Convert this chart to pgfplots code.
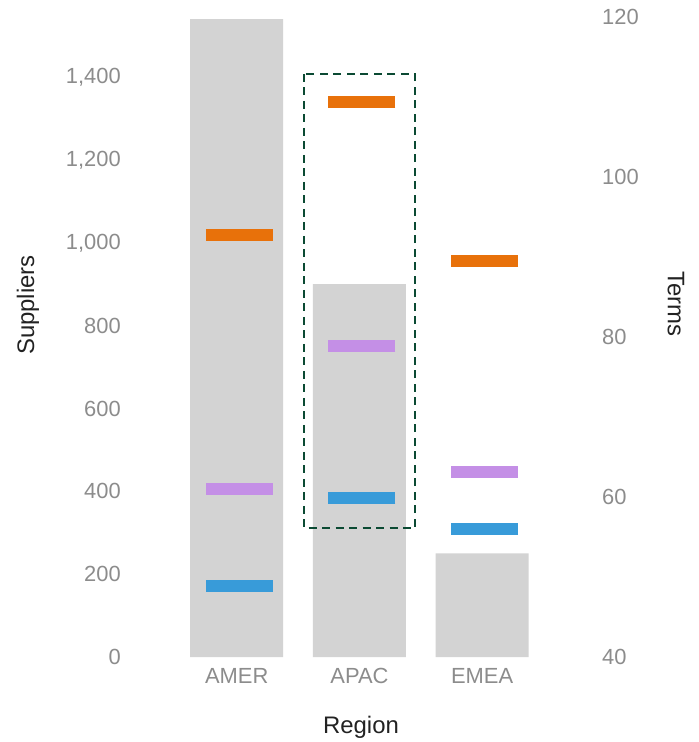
\documentclass[border=0pt]{standalone}
\usepackage{pgfplots}
\pgfplotsset{compat=1.18}
\usepackage{fontspec}
\setmainfont{Liberation Sans}

\definecolor{barGray}{HTML}{D3D3D3}
\definecolor{cOrange}{HTML}{E8710A}
\definecolor{cPurple}{HTML}{C48FE6}
\definecolor{cBlue}{HTML}{389BD9}
\definecolor{boxGreen}{HTML}{0B4A33}
\definecolor{tickGray}{HTML}{8C8C8C}
\definecolor{titleGray}{HTML}{222222}

\begin{document}
\begin{tikzpicture}
\path[use as bounding box] (0,0) rectangle (699bp,-742bp);
\pgfplotsset{
  base/.style={
    scale only axis, width=465bp, height=640bp,
    at={(130bp,-657bp)}, anchor=south west,
    xmin=-0.87, xmax=2.92,
    axis line style={draw=none},
    major tick length=0pt, tick style={draw=none},
    /pgf/number format/assume math mode=true,
    ticklabel style={font=\fontsize{22}{26}\selectfont, text=tickGray},
    clip=false,
  }
}
% Suppliers per region (left axis)
\begin{axis}[base,
    ymin=0, ymax=1545, ytick={0,200,...,1400},
    xtick={0,1,2}, xticklabels={AMER,APAC,EMEA},
    yticklabel style={anchor=east, inner sep=0pt, xshift=-9bp},
    xticklabel style={anchor=north, inner sep=0pt, yshift=-11bp},
    /pgf/number format/1000 sep={,},
  ]
  \addplot[ybar, bar width=93bp, fill=barGray, draw=none]
    coordinates {(0,1540) (1,900) (2,250)};
\end{axis}
% Terms per region (right axis)
\begin{axis}[base,
    ymin=40, ymax=120, ytick={40,60,...,120},
    axis y line*=right, axis x line=none,
    yticklabel style={anchor=west, inner sep=0pt, xshift=7bp},
  ]
  \addplot[only marks, mark=-, mark size=33.5bp, mark options={line width=12bp, draw=cOrange}]
    coordinates {(0.02,92.8) (1.02,109.4) (2.02,89.5)};
  \addplot[only marks, mark=-, mark size=33.5bp, mark options={line width=12bp, draw=cPurple}]
    coordinates {(0.02,61.0) (1.02,78.9) (2.02,63.1)};
  \addplot[only marks, mark=-, mark size=33.5bp, mark options={line width=12bp, draw=cBlue}]
    coordinates {(0.02,48.9) (1.02,59.9) (2.02,56.0)};
  % highlight around APAC
  \draw[boxGreen, line width=2.4bp, dash pattern=on 8bp off 5.5bp]
    (axis cs:0.548,112.9) rectangle (axis cs:1.452,56.1);
\end{axis}
\node[rotate=90, text=titleGray, font=\fontsize{24}{28}\selectfont] at (28bp,-305bp) {Suppliers};
\node[rotate=-90, text=titleGray, font=\fontsize{24}{28}\selectfont] at (676bp,-304bp) {Terms};
\node[anchor=base, text=titleGray, font=\fontsize{24}{28}\selectfont] at (361bp,-733bp) {Region};
\end{tikzpicture}
\end{document}
